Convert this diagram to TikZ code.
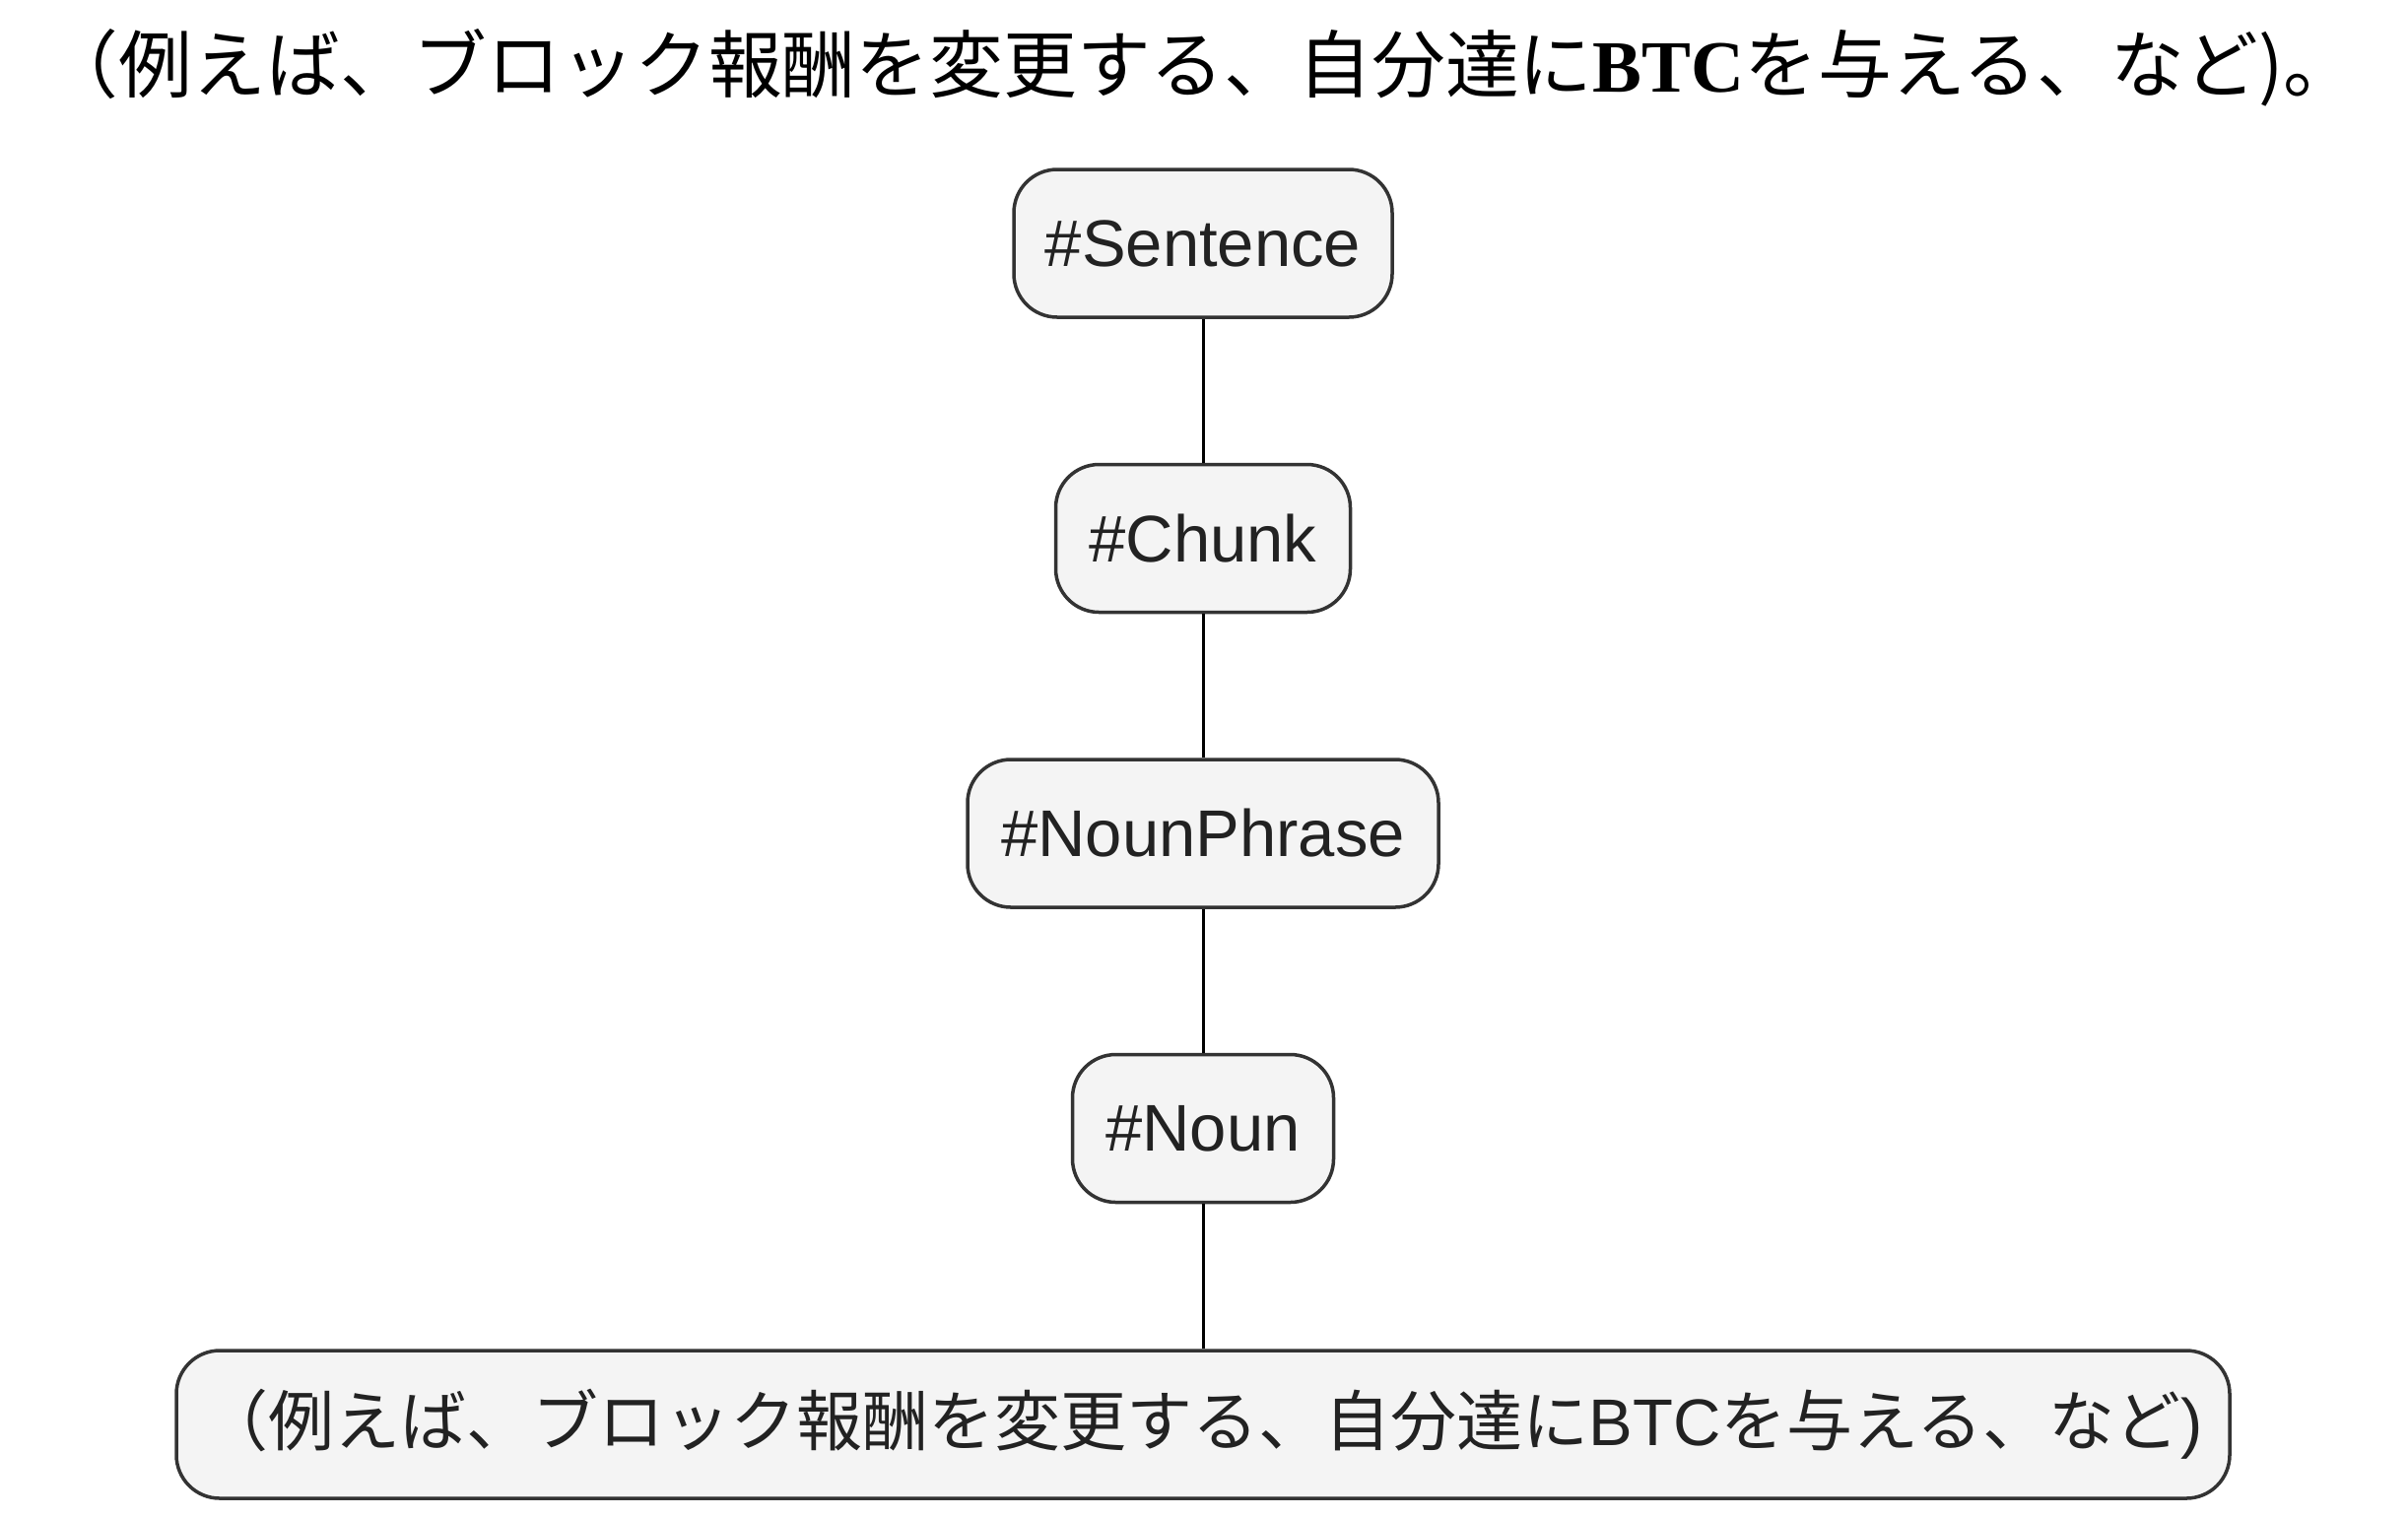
\documentclass[tikz,border=0pt]{standalone}
\usepackage{fontspec}
\setmainfont{Liberation Sans}
\newfontfamily\cjk{Noto Sans CJK JP}
\newfontfamily\tserif{Liberation Serif}
\definecolor{boxfill}{HTML}{F4F4F4}
\definecolor{boxline}{HTML}{333333}
\definecolor{textcol}{HTML}{222222}
\begin{document}
\begin{tikzpicture}[x=0.5pt,y=-0.5pt,
  box/.style={draw=boxline, fill=boxfill, line width=1.75pt, rounded corners=22pt,
    minimum height=75pt, inner xsep=4pt, font=\fontsize{33.5}{40}\selectfont, text=textcol},
  link/.style={draw=black, line width=1.5pt}]
\useasboundingbox (0,0) rectangle (2444,1539);
\node[font=\cjk\fontsize{37.4}{44}\selectfont, text=black] (title) at (1219,69)
  {（例えば、ブロック報酬を変更する、自分達に{\tserif\bfseries BTC}を与える、など)。};
\node[box, minimum width=192pt] (sent) at (1221,247) {\#Sentence};
\node[box, minimum width=149.5pt] (chunk) at (1221,546.5) {\#Chunk};
\node[box, minimum width=239pt] (np) at (1221,846) {\#NounPhrase};
\node[box, minimum width=132.5pt] (noun) at (1221,1145.5) {\#Noun};
\node[box, minimum width=1042pt] (leaf) at (1221,1446)
  {{\cjk （例えば、ブロック報酬を変更する、自分達に}BTC{\cjk を与える、など})};
\draw[link] (sent) -- (chunk);
\draw[link] (chunk) -- (np);
\draw[link] (np) -- (noun);
\draw[link] (noun) -- (leaf);
\end{tikzpicture}
\end{document}
